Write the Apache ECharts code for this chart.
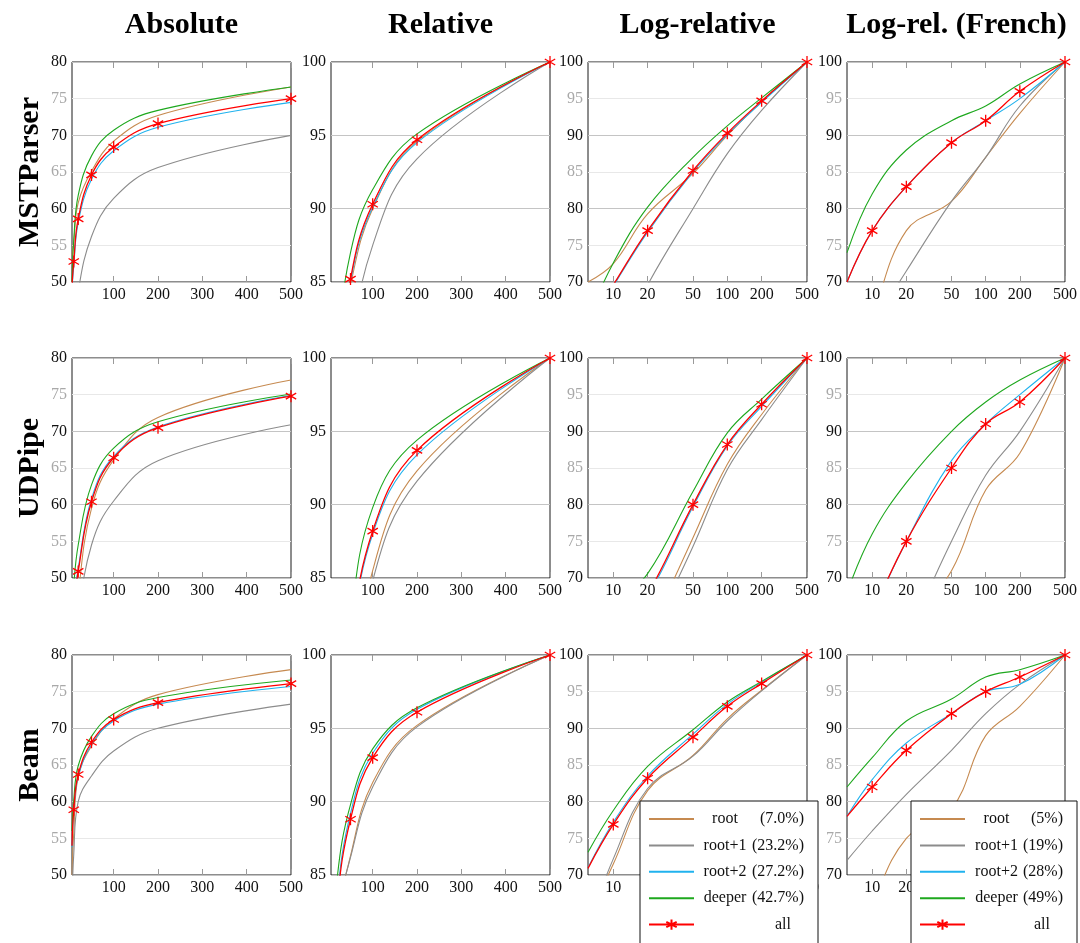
<!DOCTYPE html>
<html>
<head>
<meta charset="utf-8">
<title>Accuracy by depth</title>
<script src="https://cdn.jsdelivr.net/npm/echarts@6.0.0/dist/echarts.min.js"></script>
<style>
  html, body { margin: 0; padding: 0; background: #fff; }
  #chart { width: 1080px; height: 943px; }
</style>
</head>
<body>
<div id="chart"></div>
<script>
// x positions shared by every curve (first one is the left edge of the plots)
const xValues = [6, 10, 20, 50, 100, 200, 500];
const linearTicks = [100, 200, 300, 400, 500];
const logTicks = [10, 20, 50, 100, 200, 500];

const columnTitles = ['Absolute', 'Relative', 'Log-relative', 'Log-rel. (French)'];
const rowTitles = ['MSTParser', 'UDPipe', 'Beam'];
const groupNames = ['root', 'root+1', 'root+2', 'deeper', 'all'];
const sharesEnglish = ['(7.0%)', '(23.2%)', '(27.2%)', '(42.7%)', ''];
const sharesFrench = ['(5%)', '(19%)', '(28%)', '(49%)', ''];
const groupColors = ['#c68a50', '#8c8c8c', '#20b2ee', '#1ea81e', '#ff0000'];

// MSTParser
const mstAbsRoot   = [53.6, 55.6, 60.8, 65.1, 69.2, 72.7, 76.6];
const mstAbsRoot1  = [37.0, 42.0, 48.7, 56.2, 61.4, 65.6, 70.0];
const mstAbsRoot2  = [49.0, 52.2, 58.1, 64.0, 67.9, 71.1, 74.5];
const mstAbsDeeper = [50.0, 55.7, 61.8, 67.2, 70.7, 73.4, 76.6];
const mstAbsAll    = [49.5, 52.8, 58.6, 64.6, 68.4, 71.6, 75.0];

const mstRelRoot   = [70.0, 72.5, 79.3, 84.8, 90.0, 94.6, 100];
const mstRelRoot1  = [52.0, 60.0, 69.6, 80.0, 87.5, 93.4, 100];
const mstRelRoot2  = [63.5, 69.4, 76.8, 85.0, 90.1, 94.5, 100];
const mstRelDeeper = [65.0, 72.6, 80.2, 87.0, 91.3, 95.1, 100];
const mstRelAll    = [64.0, 69.6, 77.0, 85.2, 90.3, 94.7, 100];

const mstFrRoot    = [55, 65, 77, 81, 87, 93, 100];
const mstFrRoot1   = [58, 64, 71.5, 81, 87, 94, 100];
const mstFrRoot2   = [70, 77, 83, 89, 92, 95, 100];
const mstFrDeeper  = [74, 82, 88, 92, 94, 97, 100];
const mstFrAll     = [70, 77, 83, 89, 92, 96, 100];

// UDPipe
const udpAbsRoot   = [30.0, 38.0, 47.5, 59.5, 66.1, 71.9, 77.0];
const udpAbsRoot1  = [28.0, 35.0, 44.0, 54.5, 60.5, 66.0, 70.9];
const udpAbsRoot2  = [40.0, 46.5, 51.3, 60.8, 66.6, 70.6, 74.9];
const udpAbsDeeper = [44.0, 49.0, 54.5, 62.7, 67.7, 71.3, 75.1];
const udpAbsAll    = [40.0, 46.0, 50.9, 60.4, 66.4, 70.5, 74.8];

const udpRelRoot   = [44.0, 52.0, 62.0, 75.5, 85.5, 92.3, 100];
const udpRelRoot1  = [42.0, 50.0, 61.0, 74.3, 84.8, 91.6, 100];
const udpRelRoot2  = [53.0, 61.5, 67.5, 79.7, 88.0, 93.4, 100];
const udpRelDeeper = [60.0, 66.0, 70.6, 81.8, 89.8, 94.4, 100];
const udpRelAll    = [54.0, 61.5, 67.8, 80.0, 88.2, 93.7, 100];

const udpFrRoot    = [45, 55, 63, 71, 82, 87, 100];
const udpFrRoot1   = [45, 54, 62, 75, 84, 90, 100];
const udpFrRoot2   = [56, 65, 75, 86, 91, 95, 100];
const udpFrDeeper  = [68, 76, 83, 90, 94, 97, 100];
const udpFrAll     = [56, 65, 75, 85, 91, 94, 100];

// Beam
const beamAbsRoot   = [50.0, 55.8, 63.4, 67.6, 71.3, 74.6, 78.0];
const beamAbsRoot1  = [46.0, 52.9, 60.0, 63.5, 66.9, 70.0, 73.3];
const beamAbsRoot2  = [53.8, 58.7, 63.4, 67.8, 71.0, 73.3, 75.7];
const beamAbsDeeper = [56.0, 60.3, 64.9, 68.9, 72.0, 74.2, 76.6];
const beamAbsAll    = [54.0, 58.9, 63.7, 68.1, 71.2, 73.5, 76.1];

const beamRelRoot   = [64.0, 71.5, 81.5, 86.3, 91.3, 95.2, 100];
const beamRelRoot1  = [63.0, 72.2, 81.8, 86.2, 91.0, 95.1, 100];
const beamRelRoot2  = [71.0, 77.2, 83.5, 89.2, 93.3, 96.3, 100];
const beamRelDeeper = [73.1, 78.8, 84.8, 89.8, 93.6, 96.4, 100];
const beamRelAll    = [70.9, 76.9, 83.2, 88.8, 93.0, 96.1, 100];

const beamFrRoot    = [58, 66, 75, 79, 89, 93, 100];
const beamFrRoot1   = [72, 76, 81, 87, 92, 96, 100];
const beamFrRoot2   = [78, 83, 88, 92, 95, 96, 100];
const beamFrDeeper  = [82, 86, 91, 94, 97, 98, 100];
const beamFrAll     = [78, 82, 87, 92, 95, 97, 100];

// relative values are shown twice: linear x and log x
const mstAbs = [mstAbsRoot, mstAbsRoot1, mstAbsRoot2, mstAbsDeeper, mstAbsAll];
const mstRel = [mstRelRoot, mstRelRoot1, mstRelRoot2, mstRelDeeper, mstRelAll];
const mstFr = [mstFrRoot, mstFrRoot1, mstFrRoot2, mstFrDeeper, mstFrAll];
const udpAbs = [udpAbsRoot, udpAbsRoot1, udpAbsRoot2, udpAbsDeeper, udpAbsAll];
const udpRel = [udpRelRoot, udpRelRoot1, udpRelRoot2, udpRelDeeper, udpRelAll];
const udpFr = [udpFrRoot, udpFrRoot1, udpFrRoot2, udpFrDeeper, udpFrAll];
const beamAbs = [beamAbsRoot, beamAbsRoot1, beamAbsRoot2, beamAbsDeeper, beamAbsAll];
const beamRel = [beamRelRoot, beamRelRoot1, beamRelRoot2, beamRelDeeper, beamRelAll];
const beamFr = [beamFrRoot, beamFrRoot1, beamFrRoot2, beamFrDeeper, beamFrAll];

const panels = [
    [mstAbs, mstRel, mstRel, mstFr],
    [udpAbs, udpRel, udpRel, udpFr],
    [beamAbs, beamRel, beamRel, beamFr]
];

const fontFamily = '"Liberation Serif", "DejaVu Serif", serif';
const colLeft = [72, 331, 588, 847];
const rowTop = [62, 358, 655];
const panelW = 219;
const panelH = 220;
const yRanges = [[50, 80], [85, 100], [70, 100], [70, 100]];
const asterisk = 'path://M10,0L10,20M1.34,5L18.66,15M1.34,15L18.66,5';

const seriesName = (g, col) => {
    if (g === 4) return 'all';
    const shares = col === 3 ? sharesFrench : sharesEnglish;
    return groupNames[g] + ' ' + shares[g];
};

const grids = [];
const xAxes = [];
const yAxes = [];
const series = [];

rowTitles.forEach((rowName, r) => {
    columnTitles.forEach((colName, c) => {
        const idx = r * 4 + c;
        const isLog = c >= 2;
        const ticks = isLog ? logTicks : linearTicks;
        grids.push({
            left: colLeft[c], top: rowTop[r], width: panelW, height: panelH,
            show: true, borderColor: '#1a1a1a', borderWidth: 1, backgroundColor: 'transparent'
        });
        // bottom axis with labels
        xAxes.push({
            gridIndex: idx, type: isLog ? 'log' : 'value', logBase: 10,
            min: 6, max: 500, position: 'bottom',
            axisLine: { show: false },
            axisTick: { show: true, inside: true, length: 6, customValues: ticks, lineStyle: { color: '#9a9a9a', width: 1 } },
            axisLabel: { customValues: ticks, margin: 5, fontFamily, fontSize: 16, color: '#111' },
            splitLine: { show: false }
        });
        // top axis, only tick marks
        xAxes.push({
            gridIndex: idx, type: isLog ? 'log' : 'value', logBase: 10,
            min: 6, max: 500, position: 'top',
            axisLine: { show: false },
            axisTick: { show: true, inside: true, length: 6, customValues: ticks, lineStyle: { color: '#9a9a9a', width: 1 } },
            axisLabel: { show: false },
            splitLine: { show: false }
        });
        const plain = c === 1;
        yAxes.push({
            gridIndex: idx, type: 'value', min: yRanges[c][0], max: yRanges[c][1], interval: 5,
            axisLine: { show: false },
            axisTick: { show: false },
            axisLabel: {
                margin: 5, fontFamily, fontSize: 16,
                color: plain ? '#111' : (v) => (Number(v) % 10 === 0 ? '#111' : '#a9a9a9')
            },
            splitLine: { show: true, lineStyle: { color: plain ? ['#c4c4c4'] : ['#c4c4c4', '#e8e8e8'], width: 1 } }
        });
        panels[r][c].forEach((values, g) => {
            const isAll = g === 4;
            series.push({
                type: 'line',
                name: seriesName(g, c),
                xAxisIndex: idx * 2,
                yAxisIndex: idx,
                data: xValues.map((x, i) => (isAll && i === 0) ? { value: [x, values[i]], symbol: 'none' } : [x, values[i]]),
                smooth: 0.4,
                symbol: isAll ? asterisk : 'none',
                symbolSize: 12,
                symbolKeepAspect: true,
                showSymbol: isAll,
                clip: true,
                silent: true,
                lineStyle: { color: groupColors[g], width: isAll ? 1.3 : 1.1 },
                // plain curves get an invisible item style so the legend shows only a line
                itemStyle: isAll
                    ? { color: groupColors[g], borderColor: groupColors[g], borderWidth: 1.3 }
                    : { color: 'transparent', borderColor: 'transparent', borderWidth: 0 },
                emphasis: { disabled: true }
            });
        });
    });
});

const legendBase = {
    orient: 'vertical',
    top: 801,
    height: 200,
    z: 10,
    selectedMode: false,
    backgroundColor: '#fff',
    borderColor: '#111',
    borderWidth: 1,
    padding: [8, 14, 12, 8],
    itemWidth: 45,
    itemHeight: 13,
    itemGap: 6.4
};
const makeLegend = (col, left, nameW, shareW, allPad) => Object.assign({}, legendBase, {
    left: left,
    data: groupNames.map((g, i) => seriesName(i, col)),
    formatter: (name) => {
        if (name === 'all') return '{a|all}';
        const cut = name.indexOf(' ');
        return '{n|' + name.slice(0, cut) + '}{p|' + name.slice(cut + 1) + '}';
    },
    textStyle: {
        fontFamily, fontSize: 16, color: '#111', lineHeight: 20,
        rich: {
            n: { width: nameW, align: 'center', fontFamily, fontSize: 16, lineHeight: 20, color: '#111' },
            p: { width: shareW, align: 'right', fontFamily, fontSize: 16, lineHeight: 20, color: '#111' },
            a: { padding: [0, 0, 0, allPad], fontFamily, fontSize: 16, lineHeight: 20, color: '#111' }
        }
    }
});

const titleFont = 'bold 30px ' + fontFamily;
const graphics = [];
columnTitles.forEach((t, c) => {
    graphics.push({
        type: 'text', x: colLeft[c] + panelW / 2, y: 25, silent: true,
        style: { text: t, font: titleFont, fill: '#000', align: 'center', verticalAlign: 'middle', textAlign: 'center', textVerticalAlign: 'middle' }
    });
});
rowTitles.forEach((t, r) => {
    graphics.push({
        type: 'text', x: 30, y: rowTop[r] + panelH / 2, rotation: Math.PI / 2, silent: true,
        style: { text: t, font: titleFont, fill: '#000', align: 'center', verticalAlign: 'middle', textAlign: 'center', textVerticalAlign: 'middle' }
    });
});

const chart = echarts.init(document.getElementById('chart'), null, { renderer: 'canvas' });
chart.setOption({
    animation: false,
    backgroundColor: '#fff',
    textStyle: { fontFamily },
    grid: grids,
    xAxis: xAxes,
    yAxis: yAxes,
    series: series,
    legend: [makeLegend(0, 640, 52, 53, 76), makeLegend(3, 911, 53, 40, 64)],
    graphic: graphics
});
</script>
</body>
</html>
